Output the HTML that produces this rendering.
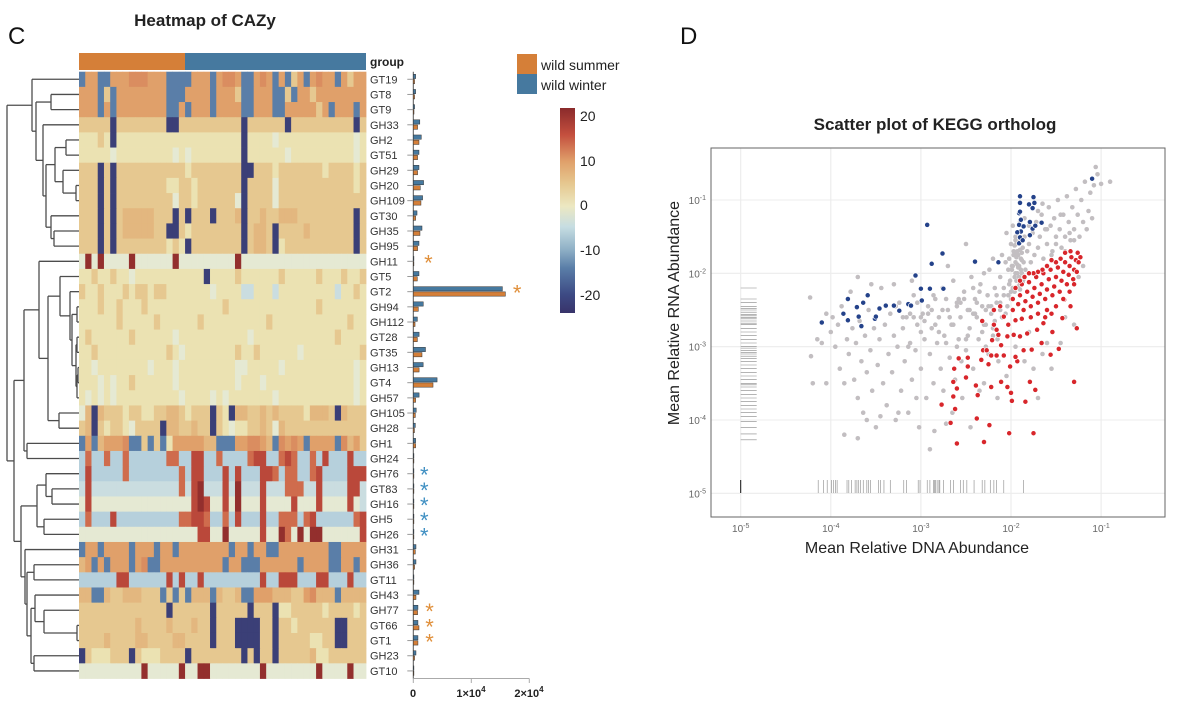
<!DOCTYPE html>
<html><head><meta charset="utf-8"><style>
html,body{margin:0;padding:0;background:#fff}
svg{display:block;font-family:"Liberation Sans",Arial,sans-serif}
</style></head><body>
<svg id="fig" width="1180" height="705" viewBox="0 0 1180 705" xmlns="http://www.w3.org/2000/svg">
<text x="8" y="44" font-size="24" fill="#111">C</text>
<text x="205" y="26" font-size="17" font-weight="bold" text-anchor="middle" fill="#222">Heatmap of CAZy</text>
<text x="370" y="66" font-size="12" font-weight="bold" fill="#222">group</text>
<rect x="79" y="53" width="106" height="17" fill="#d57f38"/>
<rect x="185" y="53" width="181" height="17" fill="#46799f"/>
<g>
<rect x="517" y="54" width="20" height="20" fill="#d57f38"/>
<text x="541" y="70" font-size="14" fill="#222">wild summer</text>
<rect x="517" y="74" width="20" height="20" fill="#46799f"/>
<text x="541" y="90" font-size="14" fill="#222">wild winter</text>
</g>
<defs><linearGradient id="cbg" x1="0" y1="1" x2="0" y2="0">
<stop offset="0" stop-color="#38336a"/><stop offset="0.09" stop-color="#3d4a84"/><stop offset="0.22" stop-color="#5a7ea8"/><stop offset="0.31" stop-color="#8fb0c6"/><stop offset="0.42" stop-color="#c6dde2"/><stop offset="0.52" stop-color="#ece8c2"/><stop offset="0.63" stop-color="#e6c890"/><stop offset="0.74" stop-color="#e0a06a"/><stop offset="0.87" stop-color="#c44f3e"/><stop offset="1" stop-color="#8a2a2b"/></linearGradient></defs>
<rect x="560" y="108" width="15" height="205" fill="url(#cbg)"/>
<g font-size="14" fill="#222">
<text x="580" y="121">20</text>
<text x="580" y="166">10</text>
<text x="580" y="210">0</text>
<text x="580" y="255">-10</text>
<text x="580" y="300">-20</text>
</g>
<g id="heat"></g>
<g id="dendro"></g>
<g id="rowlabels" font-size="11" fill="#333"></g>
<g id="bars"></g>
<g font-size="11" font-weight="bold" fill="#222" text-anchor="middle">
<text x="413" y="697">0</text>
<text x="471" y="697">1×10<tspan font-size="8" dy="-5">4</tspan></text>
<text x="529" y="697">2×10<tspan font-size="8" dy="-5">4</tspan></text>
</g>

<text x="680" y="44" font-size="24" fill="#111">D</text>
<text x="935" y="130" font-size="17" font-weight="bold" text-anchor="middle" fill="#222">Scatter plot of KEGG ortholog</text>
<rect x="711" y="148" width="454" height="369" fill="#fff"/>
<g id="scatter"></g>
<rect x="711" y="148" width="454" height="369" fill="none" stroke="#666" stroke-width="1"/>
<text x="917" y="553" font-size="16" text-anchor="middle" fill="#222">Mean Relative DNA Abundance</text>
<text transform="translate(679,313) rotate(-90)" font-size="16" text-anchor="middle" fill="#222">Mean Relative RNA Abundance</text>
<g id="sticks" font-size="10" fill="#666"></g>
</svg>
<script>
// ---- heatmap data ----
const rowNames = ["GT19","GT8","GT9","GH33","GH2","GT51","GH29","GH20","GH109","GT30","GH35","GH95","GH11","GT5","GT2","GH94","GH112","GT28","GT35","GH13","GT4","GH57","GH105","GH28","GH1","GH24","GH76","GT83","GH16","GH5","GH26","GH31","GH36","GT11","GH43","GH77","GT66","GT1","GH23","GT10"];
const levelValues = {N:-22,B:-14,b:-7,c:-5,z:-1.5,y:2,t:5,u:7,o:10,O:11.5,r:14,R:17,D:21};
const heatRows = [
"BooBBoooOO"+"OoooBBBBoo"+"oBoOOoBBoO"+"oBoBtoBoOo"+"oBotoo",
"oooBtBoooo"+"ooooBBBooo"+"oBoootBBoo"+"oBBtBootoo"+"oooooo",
"oooBoBoooo"+"ooooBBoBoo"+"oBooooBBoo"+"oBBoooooto"+"BoooBo",
"tttttNtttt"+"ttttNNtttt"+"ttttttNttt"+"tttNtttttt"+"ttttNt",
"yyytyNyyyy"+"yyyyyyyyyy"+"yyyyyyNyyy"+"yzyyyyyyyy"+"yyyyzy",
"yyyyyzyyyy"+"yyyyyzyzyy"+"yyyyyyNyyy"+"yyyzyyyyyy"+"yyyyzy",
"tttNtNtttt"+"tttttttytt"+"ttttttNNtt"+"tyttttttty"+"ttttyt",
"tttNtNtttt"+"ttttyyttyt"+"ttttttNttt"+"tztttttttt"+"ttttyt",
"tttNtNtttt"+"tttttzttyt"+"tttttzNttt"+"tztttttttt"+"tttttt",
"tttNtNtuuu"+"uutttNtNtt"+"tNtttuNttu"+"ttuuuttttt"+"ttttNt",
"tttNtNtuuu"+"uuttNNtytt"+"ttttttNtuu"+"tNttttuttt"+"ttttNt",
"tttNtNtttt"+"ttttytyNtt"+"ttttttNtuu"+"tNyttttttt"+"ttttNt",
"zDzDzzzzDz"+"zzzzzDzzzz"+"zzzzzDzzzz"+"zzzzzzzzzz"+"zzzzzz",
"yytyytyyzy"+"yyyyyyyyyy"+"Nyyyytyyyy"+"yytyyyyyty"+"yytyyt",
"tyytyyytyt"+"tyttyyyyyy"+"yzyyyyccyy"+"ycyyyyyyyy"+"ycyyty",
"yyytyytyyy"+"tyyyyyyyyy"+"yyytyyyyyy"+"yyyyyyyyty"+"yyyyyy",
"yyyyyytyyy"+"yytyyyyyyt"+"yyyyyyyyyy"+"tyyyyyyyyy"+"yyytyy",
"ytyyyyyyty"+"yyyyyzyyyy"+"yyyyyyyzyy"+"yyyyyyyyyy"+"ytyyyy",
"yytyyyyyyy"+"yyyytyzyyy"+"yyyyytyyty"+"yyyyyzyyyy"+"yyyyyt",
"yyzyyyyyyy"+"yzyyyzyyyy"+"yyyyyzzyyy"+"yyzyyyyyyy"+"yyyyzy",
"yyyzyzyyty"+"yyyyyzyyyy"+"yyyyyzyyyz"+"yyyyyyyyyy"+"yyyyzy",
"yzyzyzyyyy"+"yyyyyyzyyy"+"yzyzyyyyyy"+"yzyyyyyyyy"+"yyyyzy",
"zuNutttytt"+"yyttuutytt"+"tNtyNuuttu"+"tuttttyuuu"+"tNuttt",
"tuNtyttyzt"+"tttNuuttut"+"tNtyzyyttu"+"tzuttttttt"+"tttttt",
"BoBuoooOBB"+"tBtByooooo"+"uuBBBooOOo"+"uBOoOoBooo"+"oBOuot",
"brbbrbbrbb"+"bbbbrrbbRR"+"bbrbbbbrRR"+"bbrRrbbrbR"+"bbbRbb",
"bRbbbbbrbb"+"bbbbbbrbRR"+"bbbRbRbbbR"+"RrbrrbbrRb"+"bbbRRR",
"cRcccccccc"+"ccccccrcRD"+"cccRcDcccR"+"cccrrrccRc"+"cccRRc",
"zRzzzzzzzz"+"zzzzzzzzRD"+"RzzRzDzzzR"+"zzzzRzzzRz"+"zzzRzc",
"brbbbRbbbb"+"bbbbbbrrRR"+"rbbrbRbbbR"+"bbrrrbrRbb"+"bbbbrR",
"zzzzzzzzzz"+"zzzzzzzzzR"+"RzzDzzzzzR"+"zzDrzDzDDz"+"zzzzzR",
"BooBooooBo"+"ooBooBoooo"+"ooooBooBoo"+"BBoooooooo"+"BBoooo",
"uoBoBoooBo"+"OBBooooooo"+"oooBooBBBo"+"oooooBoooo"+"BBooBo",
"bbbbbbRRbb"+"bbbbRbRbbR"+"bbbbbbbbbR"+"bbRRRbbbRR"+"bbbRbb",
"uuBButtuuu"+"tttBtBtBuu"+"uButtuBBoo"+"ouuuttoOuu"+"uBuuuu",
"tttttttttt"+"ttttNttttt"+"tNtttttNtt"+"tNyyttttty"+"ttttyt",
"tttttttttu"+"ttttutttut"+"tNtttNNNNt"+"tNttyttttt"+"tNNttt",
"ttttuttttu"+"uttttuuttt"+"tNtttNNNNt"+"tNtttttyyt"+"tNNttt",
"NtyyytttNt"+"yyyttttNtt"+"ttttttNtNt"+"tNtttttuyy"+"tttttt",
"zzzzzzzzzz"+"DzzzzzDzzD"+"DzzzzzzzzD"+"zzzzzzzzDz"+"zzzDzz"];
const winterTotals = [400,400,220,1120,1380,980,980,1770,1600,640,1500,980,50,980,15360,1720,700,1000,2100,1700,4100,1000,500,350,400,50,50,50,50,50,50,460,460,50,980,800,800,800,460,50];
const summerTotals = [220,220,120,740,980,740,740,1200,1320,400,1150,740,50,690,15880,860,300,700,1500,1000,3400,400,350,200,400,50,50,50,50,50,50,350,220,50,460,740,980,800,220,50];
const starRows = [12,14,26,27,28,29,30,35,36,37];
const starGroup = ["summer","summer","winter","winter","winter","winter","winter","summer","summer","summer"];
const starValues = [2600,17900,1900,1900,1900,1900,1900,2800,2800,2800];
const dendroTree = [[0,[[1,2,51],[3,[[[4,5,66],[6,[7,8,76],63],55],[9,[10,11,54],51],46],43],36],32],
 [[[12,[[13,[14,[[15,16,77],[[17,18,77],[[19,20,78],21,77],76],72],70],60],[22,23,59],48],39],[24,25,27],24],
  [[[26,[27,28,52],46],[29,30,44],37],[31,[[32,33,34],[[34,[35,[36,37,77],44],35],[38,39,34],31],27],25],21],14],7];

// ---- scatter data (log10 abundances) ----
const grayX=[-4.23,-4.22,-4.2,-4.15,-4.1,-4.05,-4.05,-4.0,-3.98,-3.95,-3.92,-3.9,-3.88,-3.85,-3.82,-3.8,-3.78,-3.76,-3.74,-3.72,-3.7,-3.68,-3.66,-3.64,-3.62,-3.6,-3.58,-3.56,-3.54,-3.52,-3.5,-3.48,-3.46,-3.44,-3.42,-3.4,-3.38,-3.36,-3.34,-3.32,-3.3,-3.28,-3.26,-3.24,-3.22,-3.2,-3.18,-3.16,-3.14,-3.12,-3.1,-3.08,-3.06,-3.04,-3.02,-3.0,-2.98,-2.96,-2.94,-2.92,-2.9,-2.88,-2.86,-2.84,-2.82,-2.8,-2.78,-2.76,-2.74,-2.72,-2.7,-2.68,-2.66,-2.64,-2.62,-2.6,-2.58,-2.56,-2.54,-2.52,-2.5,-2.48,-2.46,-2.44,-2.42,-2.4,-2.38,-2.36,-2.34,-2.32,-2.3,-2.28,-2.26,-2.24,-2.22,-2.2,-2.18,-2.16,-2.14,-2.12,-2.1,-2.08,-2.06,-2.04,-2.02,-2.0,-1.99,-1.98,-1.97,-1.96,-1.95,-1.94,-1.93,-1.92,-1.91,-1.9,-1.89,-1.88,-1.87,-1.86,-1.85,-1.84,-1.82,-1.8,-1.78,-1.76,-1.74,-1.72,-1.7,-1.68,-1.66,-1.64,-1.62,-1.6,-1.58,-1.56,-1.54,-1.52,-1.5,-1.48,-1.46,-1.44,-1.42,-1.4,-1.38,-1.36,-1.34,-1.32,-1.3,-1.28,-1.26,-1.24,-1.22,-1.2,-1.18,-1.16,-1.14,-1.12,-1.1,-1.08,-1.06,-1.04,-1.0,-0.9,-1.25,-1.2,-1.3,-1.45,-1.55,-1.65,-1.75,-1.85,-1.95,-1.7,-1.6,-1.4,-1.8,-2.05,-2.15,-2.25,-2.35,-2.45,-2.55,-2.65,-2.75,-2.85,-3.05,-3.25,-3.45,-3.6,-3.7,-3.85,-2.9,-2.6,-2.5,-2.3,-2.2,-2.1,-2.5,-2.7,-3.1,-3.3,-3.55,-3.7,-2.05,-1.98,-1.9,-1.85,-1.95,-2.0,
 -2.02,-1.97,-1.93,-1.88,-2.03,-1.99,-1.94,-1.9,-2.01,-1.96,-2.12,-2.18,-2.25,-2.32,-2.4,-2.48,-2.56,-2.64,-2.72,-2.8,-2.88,-2.96,-3.04,-3.12,-3.2,-3.28,-2.15,-2.28,-2.42,-2.58,-2.72,-2.86,-3.0,-3.14,-1.6,-1.5,-1.4,-1.3,-1.55,-1.45,-1.35,-1.7,-1.8,-1.65,
 -1.96,-1.94,-1.92,-1.9,-1.88,-1.95,-1.93,-1.91,-1.89,-1.97,-1.92,-1.87,-2.0,-1.98,-1.94,-1.9,-1.86,-2.03,-1.99,-1.95,-2.08,-2.12,-2.06,-2.16,-2.22,-2.28,-2.35,-2.42,-2.2,-2.3,-2.38,-2.46,-2.52,-2.6,-2.68,-2.76,-2.84,-2.92,-3.0,-3.08];
const grayY=[-2.33,-3.13,-3.5,-2.9,-2.95,-2.55,-3.5,-2.8,-2.6,-3.0,-2.7,-3.3,-2.45,-3.5,-2.9,-3.1,-2.25,-2.75,-3.45,-2.95,-3.7,-2.65,-3.2,-3.9,-2.85,-3.35,-2.5,-3.05,-3.6,-2.75,-4.1,-3.25,-2.9,-2.2,-3.5,-2.7,-3.8,-3.1,-2.55,-3.35,-2.85,-4.0,-3.0,-2.4,-3.6,-2.75,-3.2,-2.6,-3.9,-2.95,-3.45,-2.3,-3.05,-2.7,-4.1,-3.3,-2.55,-2.9,-3.7,-2.45,-3.1,-2.75,-3.5,-2.35,-2.95,-2.6,-3.3,-2.2,-2.85,-4.05,-2.5,-3.15,-2.7,-2.1,-3.45,-2.4,-2.9,-2.6,-3.7,-2.25,-3.05,-2.5,-2.75,-2.05,-3.3,-2.35,-2.6,-2.9,-2.15,-2.45,-3.5,-2.7,-2.3,-1.95,-2.55,-2.85,-2.2,-2.4,-3.2,-2.05,-2.6,-2.3,-1.85,-2.45,-2.15,-2.35,-1.95,-2.2,-1.7,-2.05,-1.85,-1.6,-2.0,-1.75,-1.9,-1.55,-1.8,-2.0,-1.65,-1.85,-1.5,-1.95,-1.7,-1.6,-1.85,-1.45,-1.75,-1.3,-1.65,-1.5,-1.2,-1.8,-1.4,-1.6,-1.1,-1.35,-1.7,-1.25,-1.5,-1.0,-1.4,-1.65,-1.2,-1.5,-0.95,-1.3,-1.55,-1.1,-1.4,-0.85,-1.2,-1.5,-1.0,-1.3,-0.75,-1.4,-1.15,-0.9,-1.25,-0.8,-0.55,-0.65,-0.78,-0.75,-2.05,-1.9,-2.7,-2.95,-3.3,-3.1,-3.3,-3.2,-3.0,-3.7,-2.95,-2.6,-2.8,-3.4,-3.7,-3.1,-3.6,-4.1,-3.2,-3.9,-3.6,-4.15,-3.7,-3.9,-3.95,-4.0,-4.25,-4.2,-4.4,-3.0,-2.9,-2.0,-1.8,-1.75,-1.6,-1.9,-2.1,-2.15,-2.15,-2.05,-1.45,-1.35,-1.3,-1.25,-1.5,-1.6,
 -1.8,-1.75,-1.7,-1.72,-1.95,-1.9,-2.1,-2.15,-2.1,-2.25,-2.5,-2.65,-2.45,-2.8,-2.55,-2.85,-2.4,-2.7,-2.35,-2.8,-2.5,-2.65,-2.4,-2.55,-2.6,-2.45,-2.9,-3.0,-2.2,-2.35,-2.95,-2.3,-2.6,-3.0,-1.4,-1.6,-1.7,-1.55,-1.75,-1.2,-1.45,-1.15,-1.35,-1.05,
 -1.62,-1.78,-1.92,-1.68,-1.82,-1.55,-1.88,-2.05,-1.95,-1.75,-2.18,-2.12,-2.25,-1.9,-1.72,-2.22,-2.08,-2.3,-2.35,-2.0,-2.2,-2.4,-2.55,-2.3,-2.45,-2.5,-2.25,-2.55,-2.75,-2.7,-2.4,-2.5,-2.35,-2.45,-2.6,-2.5,-2.7,-2.55,-2.8,-2.6];
const blueX=[-4.10,-3.86,-3.81,-3.81,-3.71,-3.69,-3.66,-3.64,-3.59,-3.51,-3.50,-3.46,-3.39,-3.30,-3.24,-3.14,-3.11,-3.06,-3.00,-2.99,-2.93,-2.90,-2.88,-2.76,-2.75,-2.40,-2.14,-1.91,-1.90,-1.89,-1.91,-1.93,-1.91,-1.90,-1.90,-1.90,-1.86,-1.87,-1.79,-1.79,-1.76,-1.76,-1.74,-1.75,-1.80,-1.73,-1.66,-1.10,-1.89];
const blueY=[-2.67,-2.55,-2.64,-2.35,-2.46,-2.59,-2.72,-2.40,-2.30,-2.62,-2.59,-2.48,-2.44,-2.44,-2.51,-2.42,-2.44,-2.03,-2.21,-2.37,-1.34,-2.21,-1.87,-1.73,-2.21,-1.84,-1.85,-1.59,-1.51,-1.43,-1.34,-1.44,-1.18,-1.16,-1.04,-0.95,-1.36,-1.55,-1.48,-1.30,-1.39,-1.11,-1.04,-0.96,-1.06,-1.35,-1.31,-0.71,-1.27];
const redX=[-2.77,-2.67,-2.60,-2.62,-2.64,-2.64,-2.60,-2.63,-2.58,-2.48,-2.48,-2.50,-2.39,-2.37,-2.38,-2.31,-2.27,-2.33,-2.25,-2.22,-2.24,-2.30,-2.02,-1.75,-2.11,-2.04,-2.00,-1.99,-1.84,-1.79,-1.73,-1.30,-1.27,-1.47,-1.56,-1.66,-1.77,-1.86,-1.93,-2.01,-1.95,-2.08,-2.16,-2.22,-2.21,-2.16,-2.32,-2.19,-2.14,-2.11,-2.04,-1.97,-1.90,-1.82,-1.71,-1.64,-1.54,-1.43,-1.34,-1.41,-2.19,-2.12,-2.08,-2.03,-1.98,-1.95,
 -1.98,-1.95,-1.92,-1.9,-1.88,-1.86,-1.84,-1.82,-1.8,-1.78,-1.76,-1.74,-1.72,-1.7,-1.68,-1.66,-1.64,-1.62,-1.6,-1.58,-1.56,-1.54,-1.52,-1.5,-1.48,-1.46,-1.44,-1.42,-1.4,-1.38,-1.36,-1.35,-1.33,-1.31,-1.3,-1.28,-1.26,-1.27,-1.34,-1.4,-1.45,-1.5,-1.55,-1.6,-1.65,-1.7,-1.75,-1.8,-1.85,-1.9,-1.7,-1.6,-1.5,-1.42,-1.35,-1.3,-1.25,-1.23,-1.62,-1.78,-1.88,-1.55];
const redY=[-3.79,-4.04,-4.32,-3.85,-3.68,-3.48,-3.57,-3.30,-3.16,-3.15,-3.27,-3.42,-3.53,-3.66,-3.98,-3.05,-3.05,-3.18,-3.24,-3.55,-4.07,-4.30,-4.18,-4.18,-3.48,-3.55,-3.63,-3.74,-3.75,-3.48,-3.59,-3.48,-2.75,-3.03,-3.11,-2.95,-3.04,-3.05,-3.20,-3.27,-3.14,-3.12,-3.12,-3.12,-2.91,-2.77,-2.65,-2.70,-2.84,-2.98,-2.86,-2.84,-2.86,-2.82,-2.77,-2.68,-2.80,-2.61,-2.45,-2.36,-2.50,-2.45,-2.59,-2.70,-2.50,-2.64,
 -2.35,-2.2,-2.42,-2.3,-2.15,-2.5,-2.38,-2.25,-2.12,-2.45,-2.32,-2.2,-2.05,-2.4,-2.28,-2.15,-2.0,-2.35,-2.22,-2.08,-1.95,-2.3,-2.18,-2.05,-1.92,-2.25,-2.1,-1.98,-1.85,-2.15,-2.02,-1.9,-1.78,-2.08,-1.95,-1.82,-1.72,-1.98,-1.7,-1.72,-1.8,-1.85,-1.82,-1.9,-1.95,-1.98,-2.0,-2.0,-2.05,-2.1,-2.55,-2.5,-2.45,-2.35,-2.25,-2.15,-1.85,-1.78,-2.6,-2.6,-2.62,-2.55];
const rugLeftY=[-2.2,-2.35,-2.4,-2.45,-2.48,-2.5,-2.53,-2.56,-2.58,-2.6,-2.62,-2.65,-2.68,-2.7,-2.75,-2.8,-2.85,-2.9,-2.95,-3.0,-3.02,-3.05,-3.08,-3.1,-3.13,-3.16,-3.2,-3.25,-3.3,-3.35,-3.4,-3.45,-3.5,-3.52,-3.55,-3.6,-3.65,-3.7,-3.75,-3.8,-3.85,-3.9,-3.95,-4.02,-4.1,-4.19,-4.27];
const rugBottomX=[-4.14,-4.08,-4.04,-3.99,-3.97,-3.95,-3.93,-3.82,-3.80,-3.77,-3.73,-3.71,-3.69,-3.67,-3.64,-3.60,-3.58,-3.56,-3.47,-3.45,-3.41,-3.34,-3.19,-3.16,-3.03,-3.01,-2.93,-2.90,-2.86,-2.85,-2.84,-2.82,-2.80,-2.79,-2.75,-2.67,-2.64,-2.56,-2.53,-2.49,-2.41,-2.32,-2.29,-2.23,-2.19,-2.16,-2.08,-1.86];
const decadeTicks=[-5,-4,-3,-2,-1];

const NS="http://www.w3.org/2000/svg";
function mk(parent,tag,attrs){const e=document.createElementNS(NS,tag);for(const k in attrs)e.setAttribute(k,attrs[k]);parent.appendChild(e);return e;}

const stops=[[-24,"#38336a"],[-20,"#3d4a84"],[-14,"#5a7ea8"],[-10,"#8fb0c6"],[-7,"#b6d0dc"],[-3,"#dde9e4"],[0,"#ece8c2"],[2,"#ebe2b2"],[5,"#e6c890"],[8,"#e2ae76"],[10,"#e0a06a"],[13,"#d47a55"],[16,"#c44f3e"],[19,"#a63a32"],[22,"#8a2a2b"]];
function hex(c){return [parseInt(c.substr(1,2),16),parseInt(c.substr(3,2),16),parseInt(c.substr(5,2),16)];}
function cmap(v){if(v<=stops[0][0])return stops[0][1];for(let i=1;i<stops.length;i++){if(v<=stops[i][0]){const a=hex(stops[i-1][1]),b=hex(stops[i][1]);const t=(v-stops[i-1][0])/(stops[i][0]-stops[i-1][0]);return "rgb("+a.map((x,j)=>Math.round(x+(b[j]-x)*t)).join(",")+")";}}return stops[stops.length-1][1];}

const hx0=79,hx1=366,hy0=71.7,rowH=15.17;
const nCols=heatRows[0].length,colW=(hx1-hx0)/nCols;
const rowY=i=>hy0+rowH*i;
const heat=document.getElementById('heat');
heatRows.forEach((row,i)=>{for(let j=0;j<nCols;j++){const v=levelValues[row[j]];
 const r=mk(heat,'rect',{x:(hx0+j*colW).toFixed(2),y:rowY(i).toFixed(2),width:(colW+0.4).toFixed(2),height:(rowH+0.4).toFixed(2),fill:cmap(v)});
 
 
}});

const rl=document.getElementById('rowlabels');
rowNames.forEach((n,i)=>{const t=mk(rl,'text',{x:370,y:(rowY(i)+rowH/2+4).toFixed(1)});t.textContent=n;
 
 
});

const dg=document.getElementById('dendro');
function seg(x1,y1,x2,y2){const l=mk(dg,'line',{x1:x1,y1:y1,x2:x2,y2:y2,stroke:'#4d4d4d','stroke-width':1.3});
 
 }
function drawNode(n){if(typeof n==='number')return {x:hx0,y:rowY(n)+rowH/2};
 const a=drawNode(n[0]),b=drawNode(n[1]),x=n[2];
 seg(x,a.y,a.x,a.y);seg(x,b.y,b.x,b.y);seg(x,a.y,x,b.y);return {x:x,y:(a.y+b.y)/2};}
drawNode(dendroTree);

const bg=document.getElementById('bars');
const bx0=413.3,bScale=58/10000;
const bxs=v=>bx0+v*bScale;
mk(bg,'line',{x1:bx0,y1:hy0,x2:bx0,y2:678.5,stroke:'#555','stroke-width':1});
mk(bg,'line',{x1:bx0,y1:678.5,x2:bxs(20000),y2:678.5,stroke:'#aaa','stroke-width':1});
[0,10000,20000].forEach(v=>{const t=mk(bg,'line',{x1:bxs(v),y1:678.5,x2:bxs(v),y2:683,stroke:'#aaa'});
 
 });
rowNames.forEach((n,i)=>{const cy=rowY(i)+rowH/2;
 const tk=mk(bg,'line',{x1:bx0-6,y1:cy,x2:bx0,y2:cy,stroke:'#999','stroke-width':1});
 
 
 const w=mk(bg,'rect',{x:bx0,y:cy-5,width:Math.max(0.6,bxs(winterTotals[i])-bx0).toFixed(2),height:4.3,fill:'#46799f',stroke:'#333','stroke-width':0.5});
 
 
 const s=mk(bg,'rect',{x:bx0,y:cy+0.2,width:Math.max(0.6,bxs(summerTotals[i])-bx0).toFixed(2),height:4.3,fill:'#d57f38',stroke:'#333','stroke-width':0.5});
 
 
});
starRows.forEach((r,k)=>{const t=mk(bg,'text',{x:bxs(starValues[k]),y:(rowY(r)+rowH/2+9).toFixed(1),'font-size':22,'text-anchor':'middle',fill:starGroup[k]==='summer'?'#e08f3a':'#3f8fc2'});
 t.textContent='*';
 
 });

const sc=document.getElementById('scatter');
const sx=l=>740.7+(l+5)*90.1;
const sy=l=>200-(l+1)*73.33;
decadeTicks.forEach(d=>{
 const gv=mk(sc,'line',{x1:sx(d),y1:148,x2:sx(d),y2:517,stroke:'#ececec','stroke-width':1.1});
 
 
 const gh=mk(sc,'line',{x1:711,y1:sy(d),x2:1165,y2:sy(d),stroke:'#ececec','stroke-width':1.1});
 
 
});
rugLeftY.forEach(v=>{const l=mk(sc,'line',{x1:740.7,y1:sy(v),x2:756.7,y2:sy(v),stroke:'#888','stroke-width':0.6});
 
 });
rugBottomX.forEach(v=>{const l=mk(sc,'line',{x1:sx(v),y1:480,x2:sx(v),y2:493,stroke:'#888','stroke-width':0.6});
 
 });
const r0=mk(sc,'line',{x1:sx(-5),y1:480,x2:sx(-5),y2:493,stroke:'#111','stroke-width':1});


grayX.forEach((v,i)=>{const c=mk(sc,'circle',{cx:sx(v).toFixed(1),cy:sy(grayY[i]).toFixed(1),r:2.3,fill:'#c2bec1'});
 
 });
redX.forEach((v,i)=>{const c=mk(sc,'circle',{cx:sx(v).toFixed(1),cy:sy(redY[i]).toFixed(1),r:2.6,fill:'#d8262b',stroke:'#fff','stroke-width':0.7});
 
 });
blueX.forEach((v,i)=>{const c=mk(sc,'circle',{cx:sx(v).toFixed(1),cy:sy(blueY[i]).toFixed(1),r:2.6,fill:'#24428a',stroke:'#fff','stroke-width':0.7});
 
 });
const st=document.getElementById('sticks');
decadeTicks.forEach(d=>{
 const tx=mk(st,'text',{x:sx(d),y:532,'text-anchor':'middle'});
 tx.innerHTML='10<tspan font-size="7" dy="-4">'+d+'</tspan>';
 
 
 const ty=mk(st,'text',{x:706,y:sy(d)+4,'text-anchor':'end'});
 ty.innerHTML='10<tspan font-size="7" dy="-4">'+d+'</tspan>';
 
 
});
</script>
</body></html>
